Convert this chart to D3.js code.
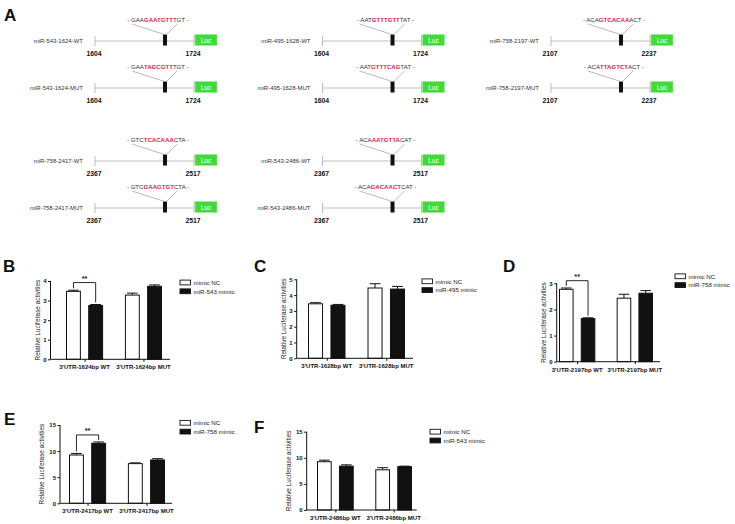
<!DOCTYPE html>
<html><head><meta charset="utf-8">
<script src="https://cdn.jsdelivr.net/npm/d3@7"></script>
<style>
body{margin:0;background:#fff}
svg{display:block;font-family:"Liberation Sans",Arial,Helvetica,sans-serif}
</style>
</head><body>
<svg id="fig" width="735" height="524"></svg>
<script>
// ---------------- Panel A: reporter constructs ----------------
const constructNames = ["miR-543-1624-WT","miR-543-1624-MUT","miR-495-1628-WT","miR-495-1628-MUT","miR-758-2197-WT","miR-758-2197-MUT","miR-758-2417-WT","miR-758-2417-MUT","miR-543-2486-WT","miR-543-2486-MUT"];
const seqLeft  = ["GAA","GAA","AAT","AAT","ACA","ACA","GTC","GTC","ACA","ACA"];
const seqSite  = ["GAATGTT","TAGCGTT","GTTTGTT","GTTTCAG","GTCACAA","TTAGTCT","TCACAAA","GAAGTGT","AATGTTA","GACAACT"];
const seqRight = ["TGT","TGT","TAT","TAT","ACT","ACT","CTA","CTA","CAT","CAT"];
const utrStart = [1604,1604,1604,1604,2107,2107,2367,2367,2367,2367];
const utrEnd   = [1724,1724,1724,1724,2237,2237,2517,2517,2517,2517];
const reporterLabel = "Luc";

// ---------------- Panels B-F: luciferase assays ----------------
const groupsB = ["3'UTR-1624bp WT","3'UTR-1624bp MUT"];
const seriesB = ["mimic NC","miR-543 mimic"];
const ncB = [3.47, 3.28],  ncErrB = [0.06, 0.10];
const miB = [2.75, 3.73],  miErrB = [0.05, 0.07];
const yTicksB = [0,1,2,3,4];
const sigB = "**", sigLevelB = 3.92;

const groupsC = ["3'UTR-1628bp WT","3'UTR-1628bp MUT"];
const seriesC = ["mimic NC","miR-495 mimic"];
const ncC = [3.45, 4.45],  ncErrC = [0.07, 0.27];
const miC = [3.35, 4.38],  miErrC = [0.06, 0.17];
const yTicksC = [0,1,2,3,4,5];
const sigC = null, sigLevelC = null;

const groupsD = ["3'UTR-2197bp WT","3'UTR-2197bp MUT"];
const seriesD = ["mimic NC","miR-758 mimic"];
const ncD = [2.77, 2.43],  ncErrD = [0.05, 0.15];
const miD = [1.65, 2.62],  miErrD = [0.03, 0.10];
const yTicksD = [0,1,2,3];
const sigD = "**", sigLevelD = 3.10;

const groupsE = ["3'UTR-2417bp WT","3'UTR-2417bp MUT"];
const seriesE = ["mimic NC","miR-758 mimic"];
const ncE = [9.25, 7.6],   ncErrE = [0.30, 0.15];
const miE = [11.5, 8.3],   miErrE = [0.25, 0.25];
const yTicksE = [0,5,10,15];
const sigE = "**", sigLevelE = 13.1;

const groupsF = ["3'UTR-2486bp WT","3'UTR-2486bp MUT"];
const seriesF = ["mimic NC","miR-543 mimic"];
const ncF = [9.25, 7.7],   ncErrF = [0.30, 0.40];
const miF = [8.4, 8.3],    miErrF = [0.25, 0.10];
const yTicksF = [0,5,10,15];
const sigF = null, sigLevelF = null;

const yAxisTitle = "Relative Luciferase activities";

// ---------------- layout ----------------
const svg = d3.select("#fig");
const constructCol = [0,0,1,1,2,2,0,0,1,1];
const constructRow = [0,1,0,1,0,1,2,3,2,3];
const colX = [95, 322.5, 551];
const rowY = [41, 88, 161, 208];

function letter(t, x, y){
  svg.append("text").attr("x",x).attr("y",y).attr("font-size",17)
    .attr("font-weight","bold").attr("fill","#111").text(t);
}
letter("A", 4, 21);

constructNames.forEach((name,i)=>{
  const x0 = colX[constructCol[i]], ly = rowY[constructRow[i]];
  const g = svg.append("g");
  // position scale along the UTR fragment (schematic)
  const pos = d3.scaleLinear().domain([0,1]).range([x0, x0+99]);
  g.append("text").attr("x",x0-12).attr("y",ly+2.2).attr("text-anchor","end")
    .attr("font-size",6).attr("fill","#333").text(name);
  g.append("line").attr("x1",pos(0)).attr("x2",pos(1)).attr("y1",ly).attr("y2",ly)
    .attr("stroke","#bdbdbd").attr("stroke-width",1);
  g.append("line").attr("x1",pos(0)).attr("x2",pos(0)).attr("y1",ly-5).attr("y2",ly+5)
    .attr("stroke","#b5b5b5").attr("stroke-width",0.9);
  g.append("line").attr("x1",pos(1)).attr("x2",pos(1)).attr("y1",ly-6).attr("y2",ly+5)
    .attr("stroke","#b5b5b5").attr("stroke-width",0.9);
  // diagonal leader lines
  g.append("line").attr("x1",x0+37).attr("y1",ly-17).attr("x2",x0+68).attr("y2",ly-7)
    .attr("stroke","#8c8c8c").attr("stroke-width",0.6);
  g.append("line").attr("x1",x0+82).attr("y1",ly-17).attr("x2",x0+72).attr("y2",ly-7)
    .attr("stroke","#8c8c8c").attr("stroke-width",0.6);
  // binding site box
  g.append("rect").attr("x",pos(0.687)).attr("y",ly-6.5).attr("width",4).attr("height",11)
    .attr("fill","#111");
  // Luc box
  g.append("rect").attr("x",pos(1)+1).attr("y",ly-6.5).attr("width",22).attr("height",11)
    .attr("fill","#3fdb36").attr("stroke","#9be894").attr("stroke-width",0.7);
  g.append("text").attr("x",pos(1)+12).attr("y",ly+1.8).attr("text-anchor","middle")
    .attr("font-size",6.5).attr("fill","#fff").text(reporterLabel);
  // numbers
  g.append("text").attr("x",pos(0)-1).attr("y",ly+15).attr("text-anchor","middle")
    .attr("font-size",6.8).attr("font-weight","bold").attr("fill","#111").text(utrStart[i]);
  g.append("text").attr("x",pos(1)-1).attr("y",ly+15).attr("text-anchor","middle")
    .attr("font-size",6.8).attr("font-weight","bold").attr("fill","#111").text(utrEnd[i]);
  // sequence
  const t = g.append("text").attr("x",x0+63).attr("y",ly-19.5).attr("text-anchor","middle")
    .attr("font-size",6.1).attr("fill","#333");
  t.append("tspan").text("- " + seqLeft[i]);
  t.append("tspan").attr("fill","#e8174e").attr("font-weight","bold").text(seqSite[i]);
  t.append("tspan").text(seqRight[i] + " -");
});

// ---------------- bar panels ----------------
const panels = [
  {letter:"B", groups:groupsB, series:seriesB, nc:ncB, ncErr:ncErrB, mi:miB, miErr:miErrB, ticks:yTicksB, sig:sigB, sigLevel:sigLevelB,
   lx:3, ly:272, axisX:50.5, xEnd:170, y0:359.3, yTop:281, bandStart:66, bandEnd:162, legX:180, legY:282.5},
  {letter:"C", groups:groupsC, series:seriesC, nc:ncC, ncErr:ncErrC, mi:miC, miErr:miErrC, ticks:yTicksC, sig:sigC, sigLevel:sigLevelC,
   lx:254, ly:272, axisX:296.7, xEnd:413, y0:358.3, yTop:279.3, bandStart:308, bandEnd:405, legX:422, legY:281.3},
  {letter:"D", groups:groupsD, series:seriesD, nc:ncD, ncErr:ncErrD, mi:miD, miErr:miErrD, ticks:yTicksD, sig:sigD, sigLevel:sigLevelD,
   lx:503, ly:272, axisX:556.7, xEnd:660, y0:361.7, yTop:283.3, bandStart:559, bandEnd:653, legX:675, legY:276.3},
  {letter:"E", groups:groupsE, series:seriesE, nc:ncE, ncErr:ncErrE, mi:miE, miErr:miErrE, ticks:yTicksE, sig:sigE, sigLevel:sigLevelE,
   lx:4, ly:425, axisX:60, xEnd:172, y0:503.3, yTop:425, bandStart:69, bandEnd:165, legX:180, legY:422.8},
  {letter:"F", groups:groupsF, series:seriesF, nc:ncF, ncErr:ncErrF, mi:miF, miErr:miErrF, ticks:yTicksF, sig:sigF, sigLevel:sigLevelF,
   lx:254, ly:433, axisX:306.7, xEnd:416.7, y0:510, yTop:431.7, bandStart:317, bandEnd:412, legX:430, legY:431.7}
];

panels.forEach(p=>{
  letter(p.letter, p.lx, p.ly);
  const g = svg.append("g");
  const ymax = p.ticks[p.ticks.length-1];
  const y = d3.scaleLinear().domain([0, ymax]).range([p.y0, p.yTop]);
  const x0 = d3.scaleBand().domain(p.groups).range([p.bandStart, p.bandEnd]).paddingInner(0.37).paddingOuter(0);
  const x1 = d3.scaleBand().domain(p.series).range([0, x0.bandwidth()]).paddingInner(0.33).paddingOuter(0);
  const bw = x1.bandwidth();
  const fills = ["#ffffff","#111111"];

  const rows = [];
  p.groups.forEach((gr,gi)=>{
    rows.push({g:gr, s:p.series[0], v:p.nc[gi], e:p.ncErr[gi], k:0});
    rows.push({g:gr, s:p.series[1], v:p.mi[gi], e:p.miErr[gi], k:1});
  });

  // error bars (drawn first so the bar outline sits over the stem)
  rows.forEach(r=>{
    const cx = x0(r.g)+x1(r.s)+bw/2;
    g.append("line").attr("x1",cx).attr("x2",cx).attr("y1",y(r.v)).attr("y2",y(r.v+r.e))
      .attr("stroke","#111").attr("stroke-width",1);
    g.append("line").attr("x1",cx-bw*0.36).attr("x2",cx+bw*0.36).attr("y1",y(r.v+r.e)).attr("y2",y(r.v+r.e))
      .attr("stroke","#111").attr("stroke-width",1);
  });
  g.selectAll("rect.bar").data(rows).join("rect").attr("class","bar")
    .attr("x",d=>x0(d.g)+x1(d.s)+0.5).attr("width",bw-1)
    .attr("y",d=>y(d.v)).attr("height",d=>p.y0-y(d.v))
    .attr("fill",d=>fills[d.k]).attr("stroke","#111").attr("stroke-width",1);

  // y axis
  const ya = g.append("g").attr("transform",`translate(${p.axisX},0)`)
    .call(d3.axisLeft(y).tickValues(p.ticks).tickSize(2.5).tickPadding(1.5).tickFormat(d3.format("d")));
  ya.select(".domain").attr("stroke","#111").attr("stroke-width",1).attr("d",`M0,${p.y0}V${p.yTop}`);
  ya.selectAll(".tick line").attr("stroke","#111");
  ya.selectAll(".tick text").attr("font-size",6).attr("font-weight","bold").attr("fill","#111")
    .attr("font-family",'"Liberation Sans",Arial,sans-serif');

  // x axis
  const xa = g.append("g").attr("transform",`translate(0,${p.y0})`)
    .call(d3.axisBottom(d3.scaleLinear().domain([p.axisX,p.xEnd]).range([p.axisX,p.xEnd]))
      .tickValues(p.groups.map(gr=>x0(gr)+x0.bandwidth()/2)).tickSize(2.5).tickFormat(""));
  xa.select(".domain").attr("stroke","#111").attr("stroke-width",1).attr("d",`M${p.axisX},0H${p.xEnd}`);
  xa.selectAll(".tick line").attr("stroke","#111");
  p.groups.forEach(gr=>{
    g.append("text").attr("x",x0(gr)+x0.bandwidth()/2).attr("y",p.y0+10)
      .attr("text-anchor","middle").attr("font-size",6).attr("font-weight","bold").attr("fill","#111").text(gr);
  });

  // y title
  const maxChars = d3.max(p.ticks, t=>String(t).length);
  const tx = p.axisX - (maxChars*5.2 + 5.5);
  g.append("text").attr("transform",`translate(${tx},${(p.y0+p.yTop)/2}) rotate(-90)`)
    .attr("text-anchor","middle").attr("font-size",6.4).attr("fill","#222").text(yAxisTitle);

  // significance bracket
  if (p.sig){
    const gr = p.groups[0];
    const xl = x0(gr)+x1(p.series[0])+bw/2, xr = x0(gr)+x1(p.series[1])+bw/2;
    const yt = y(p.sigLevel);
    const ybl = y(p.nc[0]+p.ncErr[0])-2, ybr = y(p.mi[0]+p.miErr[0])-2;
    g.append("path").attr("d",`M${xl},${ybl}V${yt}H${xr}V${ybr}`)
      .attr("fill","none").attr("stroke","#111").attr("stroke-width",0.9);
    g.append("text").attr("x",(xl+xr)/2).attr("y",yt-2).attr("text-anchor","middle")
      .attr("font-size",7.5).attr("font-weight","bold").attr("fill","#111").text(p.sig);
  }

  // legend
  p.series.forEach((s,k)=>{
    const ly = p.legY + k*8.8;
    g.append("rect").attr("x",p.legX).attr("y",ly-2.4).attr("width",10.5).attr("height",4.8)
      .attr("fill",fills[k]).attr("stroke","#111").attr("stroke-width",0.9);
    g.append("text").attr("x",p.legX+13.5).attr("y",ly+2.2).attr("font-size",6.2)
      .attr("fill","#222").text(s);
  });
});
</script>
</body></html>
